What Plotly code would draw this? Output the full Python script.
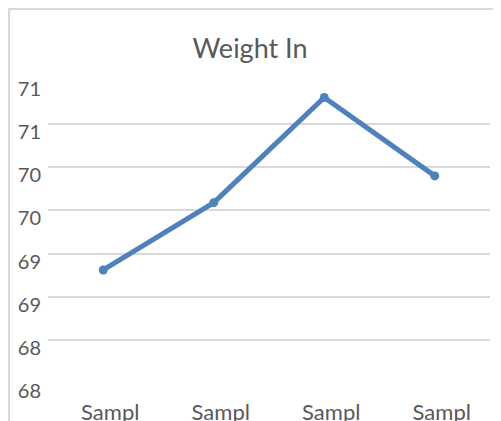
import plotly.graph_objects as go

categories = ["Sample 1", "Sample 2", "Sample 3", "Sample 4"]
category_labels = ["Sampl", "Sampl", "Sampl", "Sampl"]
weight_in = [69.31, 70.09, 71.31, 70.40]
y_tick_values = [68, 68.5, 69, 69.5, 70, 70.5, 71, 71.5]
y_tick_labels = ["68", "68", "69", "69", "70", "70", "71", "71"]

# page body has an 8px margin; figure sized to fit the window
W, H = 493, 413
L, R, T, B = 40, 10.5, 73, 38
pw = W - L - R
ph = H - T - B

fig = go.Figure()
fig.add_trace(go.Scatter(
    x=categories, y=weight_in, mode="lines+markers",
    line=dict(color="#4F81BD", width=5),
    marker=dict(color="#4F81BD", size=9),
    showlegend=False, hoverinfo="skip",
))

font = "Lato, 'Open Sans', sans-serif"
fig.update_layout(
    width=W, height=H,
    margin=dict(l=L, r=R, t=T, b=B, pad=0, autoexpand=False),
    paper_bgcolor="white", plot_bgcolor="white",
    title=dict(text="Weight In", x=242 / W, xanchor="center", y=1 - 41 / H, yanchor="middle",
               font=dict(family=font, size=27, color="#595959")),
    font=dict(family=font, color="#595959"),
    xaxis=dict(
        type="category", range=[-0.5, 3.5], automargin=False,
        tickvals=categories, ticktext=category_labels,
        showgrid=False, zeroline=False, showline=False, ticks="",
        tickfont=dict(size=22, color="#595959"),
        ticklabelshift=7, ticklabelstandoff=14,
    ),
    yaxis=dict(
        range=[68, 71.5], tickvals=y_tick_values, ticktext=y_tick_labels, automargin=False,
        showgrid=True, gridcolor="#D9D9D9", gridwidth=2,
        zeroline=False, showline=False, ticks="",
        tickfont=dict(size=20, color="#595959"),
        ticklabelshift=8, ticklabelstandoff=6,
    ),
    shapes=[dict(
        type="rect", xref="paper", yref="paper",
        x0=(1 - L) / pw, x1=(W + 40 - L) / pw,
        y0=-(H + 40 - (T + ph)) / ph, y1=1 + (T - 1) / ph,
        line=dict(color="#D9D9D9", width=2), fillcolor="rgba(0,0,0,0)", layer="below",
    )],
)

fig.write_html("out.html")
